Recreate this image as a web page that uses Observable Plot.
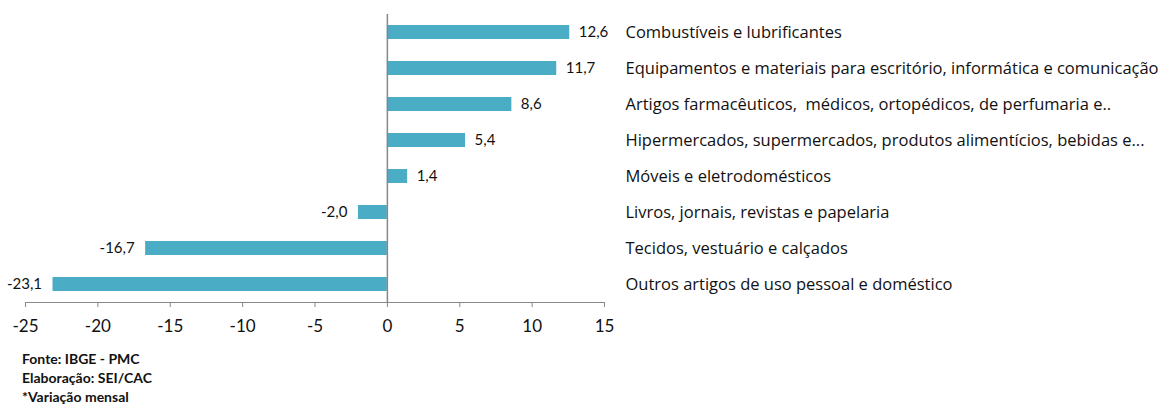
<!DOCTYPE html>
<html>
<head>
<meta charset="utf-8">
<script src="https://cdn.jsdelivr.net/npm/d3@7"></script>
<script src="https://cdn.jsdelivr.net/npm/@observablehq/plot@0.6"></script>
<style>
  html, body { margin: 0; padding: 0; background: #fff; }
  body { width: 1173px; height: 405px; overflow: hidden; font-family: Lato, "Open Sans", sans-serif; }
  #chart svg { display: block; }
  #footer { margin-left: 22px; margin-top: 7px; font-size: 14px; font-weight: bold; line-height: 19px; color: #111; }
</style>
</head>
<body>
<div id="chart"></div>
<div id="footer">
  <div>Fonte: IBGE - PMC</div>
  <div>Elaboração: SEI/CAC</div>
  <div>*Variação mensal</div>
</div>
<script>
const categories = [
  "Combustíveis e lubrificantes",
  "Equipamentos e materiais para escritório, informática e comunicação",
  "Artigos farmacêuticos,  médicos, ortopédicos, de perfumaria e..",
  "Hipermercados, supermercados, produtos alimentícios, bebidas e...",
  "Móveis e eletrodomésticos",
  "Livros, jornais, revistas e papelaria",
  "Tecidos, vestuário e calçados",
  "Outros artigos de uso pessoal e doméstico"
];
const values = [12.6, 11.7, 8.6, 5.4, 1.4, -2.0, -16.7, -23.1];
const xTicks = [-25, -20, -15, -10, -5, 0, 5, 10, 15];

const data = categories.map((c, i) => ({category: c, value: values[i]}));
const fmt = v => v.toFixed(1).replace(".", ",");

const chart = Plot.plot({
  width: 1173,
  height: 342,
  marginLeft: 25,
  marginRight: 569,
  marginTop: 14,
  marginBottom: 40,
  style: {fontFamily: "Lato, 'Open Sans', sans-serif", fontSize: "14px", color: "#111", background: "#fff"},
  x: {domain: [-25, 15], ticks: xTicks, label: null},
  y: {domain: categories, paddingInner: 0.62, paddingOuter: 0.31, axis: null},
  marks: [
    Plot.barX(data, {x: "value", y: "category", fill: "#4bacc6"}),
    Plot.ruleX([0], {stroke: "#888", strokeWidth: 1.5}),
    Plot.frame({anchor: "bottom", stroke: "#888", strokeWidth: 1.2}),
    Plot.axisX({ticks: xTicks, tickSize: 5, tickPadding: 12, stroke: "#888", fontSize: 17, fill: "#111", tickFormat: d => String(d), label: null}),
    Plot.text(data.filter(d => d.value >= 0), {x: "value", y: "category", text: d => fmt(d.value), textAnchor: "start", dx: 9, fontSize: 15, fill: "#111"}),
    Plot.text(data.filter(d => d.value < 0), {x: "value", y: "category", text: d => fmt(d.value), textAnchor: "end", dx: -11, fontSize: 15, fill: "#111"}),
    Plot.text(data, {y: "category", text: "category", frameAnchor: "right", dx: 21, textAnchor: "start", fontSize: 16.5, fontFamily: "'Open Sans', Lato, sans-serif", fill: "#111"})
  ]
});
document.getElementById("chart").appendChild(chart);
</script>
</body>
</html>
